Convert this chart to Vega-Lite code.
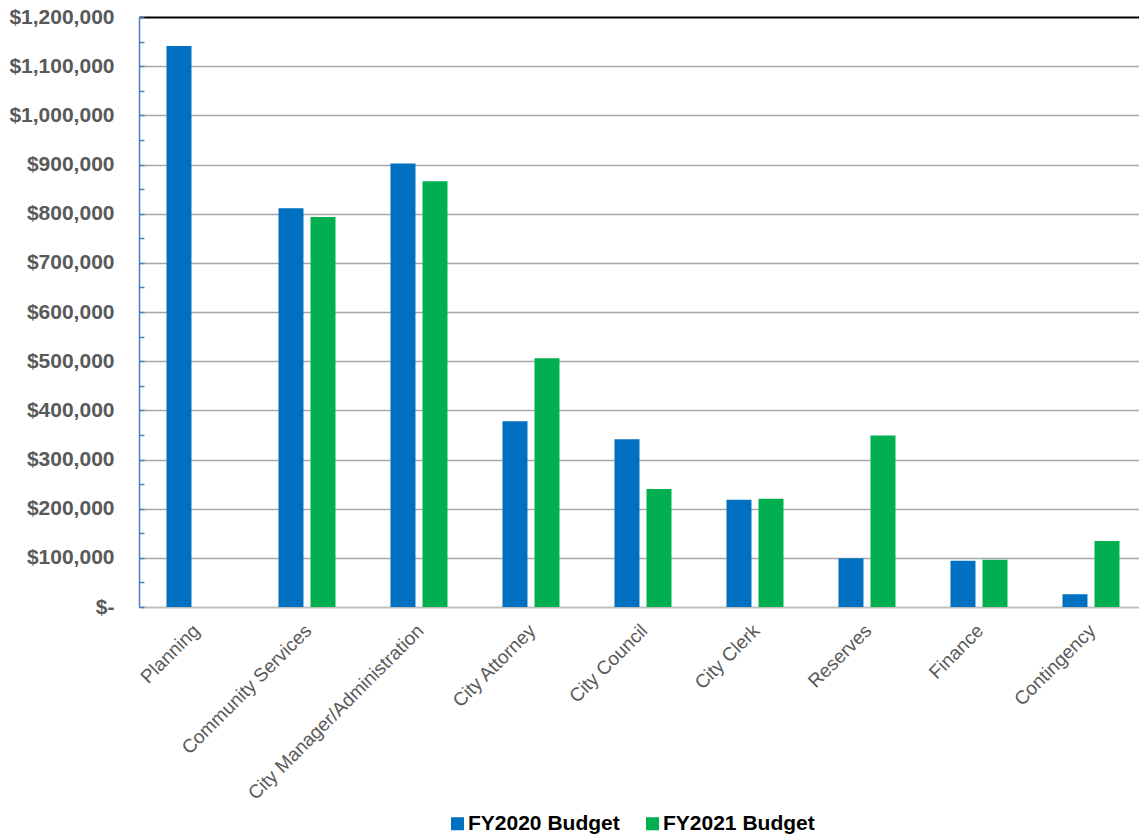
{
  "$schema": "https://vega.github.io/schema/vega-lite/v6.json",
  "autosize": {"type": "none"},
  "width": 999,
  "height": 590,
  "padding": {"left": 139, "top": 17, "right": 1, "bottom": 229},
  "background": "white",
  "config": {
    "font": "Liberation Sans",
    "view": {"stroke": null}
  },
  "data": {
    "values": [
      {"dept": "Planning", "series": "FY2020 Budget", "amount": 1141000},
      {"dept": "Community Services", "series": "FY2020 Budget", "amount": 811000},
      {"dept": "Community Services", "series": "FY2021 Budget", "amount": 793000},
      {"dept": "City Manager/Administration", "series": "FY2020 Budget", "amount": 902000},
      {"dept": "City Manager/Administration", "series": "FY2021 Budget", "amount": 866000},
      {"dept": "City Attorney", "series": "FY2020 Budget", "amount": 378000},
      {"dept": "City Attorney", "series": "FY2021 Budget", "amount": 506000},
      {"dept": "City Council", "series": "FY2020 Budget", "amount": 341000},
      {"dept": "City Council", "series": "FY2021 Budget", "amount": 240000},
      {"dept": "City Clerk", "series": "FY2020 Budget", "amount": 218000},
      {"dept": "City Clerk", "series": "FY2021 Budget", "amount": 220000},
      {"dept": "Reserves", "series": "FY2020 Budget", "amount": 99000},
      {"dept": "Reserves", "series": "FY2021 Budget", "amount": 349000},
      {"dept": "Finance", "series": "FY2020 Budget", "amount": 94000},
      {"dept": "Finance", "series": "FY2021 Budget", "amount": 96000},
      {"dept": "Contingency", "series": "FY2020 Budget", "amount": 26000},
      {"dept": "Contingency", "series": "FY2021 Budget", "amount": 134000}
    ]
  },
  "mark": {"type": "bar"},
  "encoding": {
    "x": {
      "field": "dept",
      "type": "nominal",
      "sort": null,
      "scale": {"paddingInner": 0.491, "paddingOuter": 0.2455, "range": [0, 1008]},
      "axis": {
        "title": null,
        "labelAngle": -45,
        "labelFontSize": 19,
        "labelColor": "#595959",
        "labelPadding": 14,
        "labelOffset": -5,
        "labelLimit": 0,
        "ticks": false,
        "domainColor": "#BFBFBF",
        "domainWidth": 2,
        "grid": false
      }
    },
    "xOffset": {
      "field": "series",
      "type": "nominal",
      "scale": {"domain": ["FY2020 Budget", "FY2021 Budget"], "paddingInner": 0.22, "paddingOuter": 0}
    },
    "y": {
      "field": "amount",
      "type": "quantitative",
      "scale": {"domain": [0, 1200000], "nice": false},
      "axis": {
        "title": null,
        "values": [0, 50000, 100000, 150000, 200000, 250000, 300000, 350000, 400000, 450000, 500000, 550000, 600000, 650000, 700000, 750000, 800000, 850000, 900000, 950000, 1000000, 1050000, 1100000, 1150000, 1200000],
        "labelExpr": "datum.value % 100000 != 0 ? '' : (datum.value == 0 ? '$-' : format(datum.value, '$,'))",
        "labelFontSize": 21,
        "labelFontWeight": "bold",
        "labelColor": "#595959",
        "labelPadding": 30,
        "tickSize": -5,
        "tickColor": "#4A7EBB",
        "tickWidth": 1.5,
        "domainColor": "#4A7EBB",
        "domainWidth": 1.5,
        "grid": true,
        "gridColor": {"condition": {"test": "datum.value == 1200000", "value": "#000000"}, "value": "#A6A6A6"},
        "gridOpacity": {"condition": {"test": "datum.value % 100000 != 0 || datum.value == 0", "value": 0}, "value": 1},
        "gridWidth": {"condition": {"test": "datum.value == 1200000", "value": 2}, "value": 1.5}
      }
    },
    "color": {
      "field": "series",
      "type": "nominal",
      "scale": {"domain": ["FY2020 Budget", "FY2021 Budget"], "range": ["#0070C0", "#00B050"]},
      "legend": {
        "title": null,
        "orient": "none",
        "direction": "horizontal",
        "legendX": 308,
        "legendY": 796,
        "symbolType": "square",
        "symbolSize": 169,
        "symbolStrokeWidth": 0,
        "labelFontSize": 21,
        "labelFontWeight": "bold",
        "labelColor": "#000000",
        "labelOffset": 0,
        "columnPadding": 22
      }
    }
  }
}
